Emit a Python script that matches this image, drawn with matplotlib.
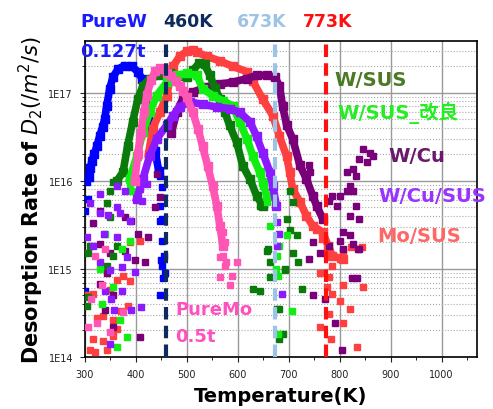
import matplotlib.pyplot as plt
import matplotlib.ticker as mticker
import numpy as np

# PureW 0.127t
purew_t = [308, 311, 314, 318, 324, 329, 335, 339, 343, 349, 355, 365, 378, 392, 404, 412, 416, 422, 430, 438, 445]
purew_v = [1.1e16, 1.4e16, 1.7e16, 2.0e16, 2.5e16, 3.2e16, 4.1e16, 5.0e16, 7.1e16, 1.12e17, 1.5e17, 1.86e17,
           2.04e17, 2.0e17, 1.74e17, 1.45e17, 1.2e17, 7e16, 4e16, 2.2e16, 1.3e16]
purew_st = [304, 306, 300, 302, 300, 447, 451, 447, 447, 451, 451, 453, 447, 449, 455, 458, 451]
purew_sv = [9.8e15, 6.3e15, 4.6e15, 5.1e14, 5.6e14, 1.15e16, 8.5e15, 5.2e15, 3.5e15, 2.1e15, 1.07e15, 7.8e14,
            5.0e14, 1.25e15, 1.4e15, 9e14, 3.7e15]

# PureMo 0.5t
puremo_t = [398, 404, 410, 416, 422, 430, 438, 447, 455, 462, 470, 478, 486, 493, 500, 512, 522, 531, 541, 551,
            559, 565, 571]
puremo_v = [1.0e16, 2.0e16, 3.5e16, 6.0e16, 9.5e16, 1.4e17, 1.75e17, 1.9e17, 1.85e17, 1.7e17, 1.55e17, 1.35e17,
            1.2e17, 1.05e17, 8.9e16, 6.0e16, 3.9e16, 2.5e16, 1.48e16, 8.7e15, 5.2e15, 3.1e15, 1.8e15]
puremo_st = [565, 578, 598, 565, 588, 584, 571, 575, 575, 571, 320, 306, 375, 333, 324, 349, 340, 313]
puremo_sv = [1.38e15, 1.2e15, 1.2e15, 8.1e14, 8.3e14, 6.5e14, 1.4e15, 1.07e15, 2.0e15, 2.6e15, 1.4e15, 2.2e14,
             3.2e14, 6.5e14, 2.4e14, 1.9e14, 1.7e15, 4.5e14]

# W/SUS
wsus_t = [363, 375, 384, 394, 404, 414, 427, 447, 467, 485, 500, 512, 525, 535, 545, 555, 565, 575, 584, 598,
          610, 624, 637, 649]
wsus_v = [1.0e16, 1.26e16, 2.5e16, 4.7e16, 8.5e16, 1.2e17, 1.45e17, 1.58e17, 1.66e17, 1.55e17, 1.5e17, 1.8e17,
          2.2e17, 2.1e17, 1.6e17, 1.15e17, 8.5e16, 6e16, 4.3e16, 2.75e16, 1.48e16, 1.05e16, 6.8e15, 5.2e15]
wsus_st = [355, 349, 343, 349, 310, 355, 363, 343, 304, 306, 306, 643, 637, 696, 702, 716, 659, 663, 692, 718,
           630, 643, 682, 688, 682, 657, 708, 727, 708, 702, 663, 692, 678]
wsus_sv = [9.8e15, 7.6e15, 5.6e15, 3.9e15, 1.8e15, 1.4e15, 1.8e15, 1.07e15, 3.8e14, 1.5e15, 4.8e14, 5.2e15,
           7.0e15, 3.7e15, 2.8e15, 2.4e15, 1.7e15, 1.2e15, 1.0e15, 1.2e15, 5.9e14, 5.6e14, 3.5e14, 1.8e14,
           1.6e14, 1.6e15, 1.5e15, 5.9e14, 5.7e15, 7.6e15, 8.1e14, 9.6e14, 3.5e14]

# W/SUS_改良
wsus2_t = [388, 402, 414, 427, 441, 461, 480, 500, 520, 531, 551, 571, 590, 604, 618, 630, 643, 649, 657]
wsus2_v = [1.05e16, 1.9e16, 3.6e16, 6.0e16, 9.3e16, 1.32e17, 1.58e17, 1.66e17, 1.58e17, 1.12e17, 9.3e16,
           8.1e16, 7.1e16, 4.7e16, 3.0e16, 1.9e16, 1.26e16, 9.8e15, 6.8e15]
wsus2_st = [649, 657, 663, 678, 676, 696, 682, 680, 706, 680, 388, 392, 388, 373, 329, 355, 333, 382, 369, 363,
            340]
wsus2_sv = [8.7e15, 5.8e15, 3.1e15, 1.4e15, 1.0e15, 2.4e15, 1.8e15, 8.3e14, 3.3e14, 1.8e14, 9.3e15, 7.6e15,
            2.1e15, 1.7e15, 1.0e15, 6.3e14, 4.0e14, 1.7e14, 2.6e14, 1.3e14, 2.5e15]

# W/Cu
wcu_t = [470, 480, 492, 512, 539, 565, 590, 618, 637, 657, 673, 682, 688, 696, 708, 722, 735, 747, 755, 767]
wcu_v = [3.5e16, 6e16, 8.5e16, 1.02e17, 1.17e17, 1.26e17, 1.32e17, 1.45e17, 1.58e17, 1.58e17, 1.5e17, 1.2e17,
         7.1e16, 4.3e16, 3.0e16, 1.5e16, 1.05e16, 6.8e15, 5.2e15, 3.7e15]
wcu_st = [845, 859, 865, 853, 839, 826, 814, 833, 820, 814, 800, 786, 780, 794, 826, 833, 820, 839, 806, 820,
          839, 826, 800, 761, 739, 747, 780, 825, 835, 747, 771, 790, 804, 806, 837, 739, 741,
          329, 316, 378, 390, 404, 424, 329, 349, 378, 398, 418, 343, 329, 355, 339, 355, 408, 437, 447, 441]
wcu_sv = [2.3e16, 2.1e16, 1.9e16, 1.66e16, 1.78e16, 1.38e16, 1.26e16, 1.15e16, 8.7e15, 7.6e15, 6.8e15, 6.8e15,
          5.9e15, 5.2e15, 7.6e15, 5.2e15, 4.0e15, 3.7e15, 2.6e15, 2.4e15, 1.7e15, 1.9e15, 2.1e15, 1.5e15,
          1.3e15, 2.0e15, 1.8e15, 7.8e14, 7.8e14, 5.0e14, 4.6e14, 2.4e14, 1.2e14, 1.7e15, 1.7e15, 1.5e16,
          1.26e16,
          4.6e15, 3.3e15, 3.9e15, 3.5e15, 2.5e15, 2.3e15, 1.9e15, 1.5e15, 1.6e15, 1.25e15, 1.2e15, 8.9e14,
          6.8e14, 5.0e14, 3.4e14, 2.2e14, 1.7e14, 5.0e15, 6.5e15, 1.2e16]

# W/Cu/SUS
wcusus_t = [402, 414, 427, 441, 461, 473, 486, 506, 531, 559, 584, 604, 624, 637, 649, 663, 669, 676]
wcusus_v = [6.3e15, 1.05e16, 1.9e16, 3.0e16, 4.3e16, 5.5e16, 6.9e16, 7.9e16, 7.4e16, 6.9e16, 6.6e16, 6.0e16,
            4.7e16, 3.2e16, 2.1e16, 1.26e16, 8.7e15, 5.2e15]
wcusus_st = [678, 678, 686, 682, 329, 363, 378, 310, 363, 329, 345, 369, 388, 304, 337, 363, 316, 382, 329, 373,
             349, 398, 373, 351, 357, 390, 410, 349, 408, 412, 422, 339]
wcusus_sv = [3.4e15, 1.8e15, 5.2e14, 2.5e15, 7.1e15, 8.7e15, 7.6e15, 5.6e15, 5.0e15, 4.3e15, 4.1e15, 4.3e15,
             3.5e15, 2.3e15, 2.5e15, 2.3e15, 1.8e15, 1.38e15, 1.2e15, 1.05e15, 9.8e14, 9.3e14, 5.6e14, 4.6e14,
             3.4e14, 3.4e14, 3.7e14, 1.4e14, 8.1e15, 5.9e15, 9.3e15, 5.6e14]

# Mo/SUS
mosus_t = [425, 433, 447, 461, 467, 473, 486, 500, 512, 520, 539, 565, 590, 618, 630, 649, 669, 682, 696, 702,
           708, 722, 735, 747, 767, 778, 786, 806]
mosus_v = [2.0e16, 3.9e16, 6.0e16, 9.3e16, 1.45e17, 2.0e17, 2.6e17, 2.95e17, 3.1e17, 2.9e17, 2.6e17, 2.3e17,
           2.0e17, 1.74e17, 1.35e17, 8.5e16, 5.5e16, 3.2e16, 1.9e16, 1.26e16, 8.0e15, 5.8e15, 4.0e15, 3.1e15,
           2.6e15, 1.8e15, 1.4e15, 1.3e15]
mosus_st = [786, 800, 806, 823, 843, 761, 780, 775, 806, 845, 786, 800, 820, 780, 761, 806, 784, 835, 773, 765,
            754, 408, 388, 375, 363, 388, 316, 306, 335, 324, 355, 316, 335, 355, 363, 320, 300, 371, 384, 349,
            343, 310]
mosus_sv = [1.07e15, 1.3e15, 1.6e15, 1.78e15, 1.78e15, 9e14, 8e14, 6.3e14, 6.5e14, 6.3e14, 5.2e14, 4.3e14,
            3.5e14, 3.1e14, 2.2e14, 2.4e14, 1.6e14, 1.3e14, 1.5e15, 2.2e15, 2.8e15, 2.1e15, 2.0e15, 8.3e14,
            7.4e14, 7.2e14, 5.2e14, 5.0e14, 2.9e14, 2.8e14, 2.6e14, 1.6e14, 1.5e14, 1.75e14, 2.1e14, 1.15e14,
            5e14, 3.3e14, 3.8e14, 5.8e14, 1.2e14, 1.2e14]

vlines_t = [460, 673, 773]
vlines_lbl = ["460K", "673K", "773K"]
vlines_c = ["#0d2b5e", "#9dc3e6", "#ff1010"]

fig = plt.figure(figsize=(4.93, 4.10), dpi=100)
ax = fig.add_axes([0.172, 0.127, 0.796, 0.771])
ax.set_yscale('log')
ax.set_xlim(300, 1070)
ax.set_ylim(1e14, 3.9e17)

series = [
    (purew_t, purew_v, purew_st, purew_sv, "#0000ff"),
    (mosus_t, mosus_v, mosus_st, mosus_sv, "#ff4040"),
    (wcu_t, wcu_v, wcu_st, wcu_sv, "#7a007a"),
    (wsus_t, wsus_v, wsus_st, wsus_sv, "#0a7a0a"),
    (wsus2_t, wsus2_v, wsus2_st, wsus2_sv, "#11ee11"),
    (wcusus_t, wcusus_v, wcusus_st, wcusus_sv, "#8c1aff"),
    (puremo_t, puremo_v, puremo_st, puremo_sv, "#ff55b4"),
]
for t, v, st, sv, c in series:
    ax.plot(t, v, '-s', color=c, lw=5.5, ms=5.5, zorder=3)
    ax.plot(st, sv, 's', color=c, ms=4.5, ls='none', zorder=3)

for t, c in zip(vlines_t, vlines_c):
    ax.axvline(t, color=c, lw=3, ls=(0, (3, 1.5)), zorder=5)

ax.xaxis.set_major_locator(mticker.MultipleLocator(100))
ax.xaxis.set_minor_locator(mticker.MultipleLocator(50))
ax.yaxis.set_major_formatter(mticker.FuncFormatter(lambda v, p: "1E%d" % round(np.log10(v))))
ax.yaxis.set_minor_formatter(mticker.NullFormatter())
ax.tick_params(labelsize=7, colors='#222222', direction='out', pad=5)
ax.grid(True, which='major', color='#999999', lw=1, zorder=0)
ax.grid(True, which='minor', axis='y', color='#aaaaaa', lw=0.8, ls=':', zorder=0)
ax.set_axisbelow(True)
for s in ax.spines.values():
    s.set_linewidth(1.2)

ax.set_xlabel("Temperature(K)", fontsize=14, fontweight='bold', labelpad=5)
ax.set_ylabel(r"Desorption Rate of $D_2(/m^2/s)$", fontsize=15, fontweight='bold', labelpad=2)

fam = ['DejaVu Sans', 'Noto Sans CJK JP']
fig.text(80/493, 1 - 22/410, "PureW", color='#1a1aff', fontsize=13, fontweight='bold', va='center', family=fam)
fig.text(80/493, 1 - 52/410, "0.127t", color='#1a1aff', fontsize=13, fontweight='bold', va='center', family=fam)
for lbl, c, x in zip(vlines_lbl, vlines_c, [163, 237, 303]):
    fig.text(x/493, 1 - 22/410, lbl, color=c, fontsize=12.5, fontweight='bold', va='center', family=fam)

labels = ["W/SUS", "W/SUS_改良", "W/Cu", "W/Cu/SUS", "Mo/SUS"]
label_c = ["#4a7a22", "#22ee22", "#6a1a6a", "#9933ff", "#ff6666"]
label_xy = [(334, 81), (337, 113), (388, 157), (378, 197), (377, 237)]
for lbl, c, (x, y) in zip(labels, label_c, label_xy):
    fig.text(x/493, 1 - y/410, lbl, color=c, fontsize=14, fontweight='bold', va='center', family=fam)

fig.text(175/493, 1 - 310/410, "PureMo", color='#ff4fc0', fontsize=13, fontweight='bold', va='center', family=fam)
fig.text(175/493, 1 - 337/410, "0.5t", color='#ff4fc0', fontsize=13, fontweight='bold', va='center', family=fam)

fig.savefig("out.png", dpi=100)
